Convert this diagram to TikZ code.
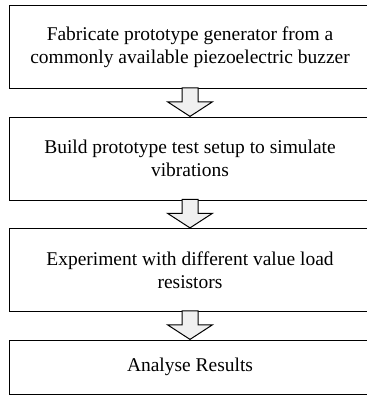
\documentclass[tikz,border=0pt]{standalone}
\usepackage{fontspec}
\setmainfont{Liberation Serif}
\usetikzlibrary{positioning,shapes.arrows}

\tikzset{every picture/.style={line width=0.75pt}}
\tikzset{
  stepbox/.style={draw=black, fill=white, minimum width=271.5pt, minimum height=62.25pt,
    align=center, inner sep=0pt, outer sep=0pt, font=\fontsize{14.6}{17.4}\selectfont},
  fatarrow/.style={single arrow, draw=black, fill=gray!12, shape border rotate=270,
    minimum height=21.375pt, minimum width=33pt, inner sep=5.625pt,
    single arrow head extend=10.875pt, single arrow tip angle=114}
}

\begin{document}
\begin{tikzpicture}[x=0.75pt,y=0.75pt,yscale=-1,xscale=1]
        %set diagram left start at 0, and has height of 396
        \useasboundingbox (0,0) rectangle (367,396);

        %Shape: Rectangle [id:box1]
        \node[stepbox] (fabricate) at (190,47) {Fabricate prototype generator from a\\commonly available piezoelectric buzzer};
        %Shape: Rectangle [id:box2]
        \node[stepbox, below=21.375pt of fabricate] (build) {Build prototype test setup to simulate\\vibrations};
        %Shape: Rectangle [id:box3]
        \node[stepbox, below=21.375pt of build] (experiment) {Experiment with different value load\\resistors};
        %Shape: Rectangle [id:box4]
        \node[stepbox, minimum height=40.5pt, below=21.375pt of experiment] (analyse) {Analyse Results};

        %Right Arrow [id:arrow1]
        \node[fatarrow, anchor=tip] (toBuild) at (build.north) {};
        %Right Arrow [id:arrow2]
        \node[fatarrow, anchor=tip] (toExperiment) at (experiment.north) {};
        %Right Arrow [id:arrow3]
        \node[fatarrow, anchor=tip] (toAnalyse) at (analyse.north) {};

\end{tikzpicture}
\end{document}
